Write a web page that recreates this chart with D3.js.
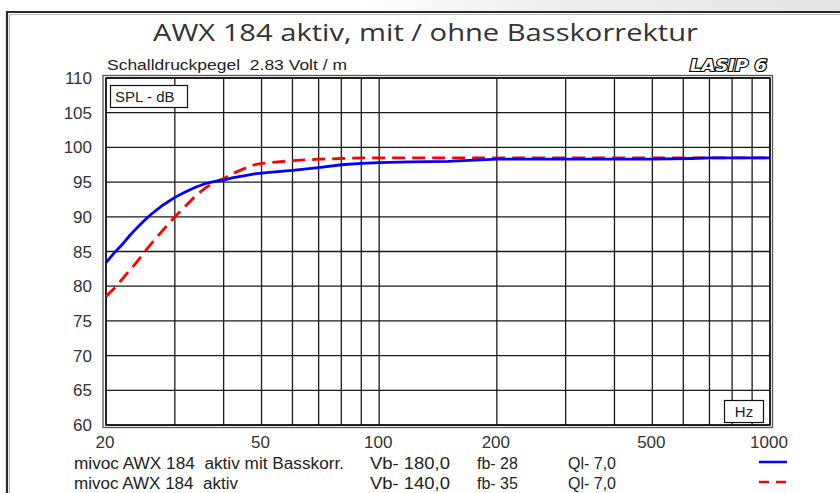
<!DOCTYPE html>
<html>
<head>
<meta charset="utf-8">
<script src="https://cdn.jsdelivr.net/npm/d3@7"></script>
<style>
  html, body { margin: 0; padding: 0; background: #fff; }
  svg { display: block; }
  text { font-family: "Liberation Sans", Arial, sans-serif; fill: #222; white-space: pre; }
</style>
</head>
<body>
<svg id="chart" width="840" height="493"></svg>
<script>
// ---- data ----
const freqs = [20, 21, 22, 23, 24, 25, 26, 28, 30, 32, 34, 36, 38, 40, 42, 45, 48, 50, 55, 60, 70, 80, 90, 100, 120, 150, 200, 300, 400, 500, 630, 700, 800, 1000];
const splMitBasskorr = [83.4, 84.8, 86.0, 87.3, 88.4, 89.4, 90.3, 91.7, 92.8, 93.6, 94.3, 94.8, 95.1, 95.3, 95.6, 95.9, 96.2, 96.3, 96.5, 96.7, 97.1, 97.5, 97.7, 97.8, 97.9, 98.0, 98.3, 98.3, 98.3, 98.3, 98.4, 98.5, 98.5, 98.5];
const splAktiv = [78.5, 79.7, 81.0, 82.3, 83.5, 84.8, 86.0, 88.1, 90.0, 91.6, 93.1, 94.2, 95.0, 95.5, 96.2, 96.9, 97.5, 97.7, 97.9, 98.1, 98.3, 98.4, 98.5, 98.5, 98.5, 98.5, 98.5, 98.5, 98.5, 98.5, 98.5, 98.5, 98.5, 98.5];
const xGridFreqs = [20, 30, 40, 50, 60, 70, 80, 90, 100, 200, 300, 400, 500, 600, 700, 800, 900, 1000];
const xTickLabels = [20, 50, 100, 200, 500, 1000];
const yTicks = [60, 65, 70, 75, 80, 85, 90, 95, 100, 105, 110];
const titleText = "AWX 184 aktiv, mit / ohne Basskorrektur";
const subtitleText = "Schalldruckpegel  2.83 Volt / m";
const legendNames = ["mivoc AWX 184  aktiv mit Basskorr.", "mivoc AWX 184  aktiv"];
const legendVb = ["Vb- 180,0", "Vb- 140,0"];
const legendFb = ["fb- 28", "fb- 35"];
const legendQl = ["Ql- 7,0", "Ql- 7,0"];

// ---- layout ----
const svg = d3.select("#chart");
const x = d3.scaleLog().domain([20, 1000]).range([106, 770]);
const y = d3.scaleLinear().domain([60, 110]).range([425, 78]);

// top background texture
const defs = svg.append("defs");
const grad = defs.append("linearGradient").attr("id", "topg").attr("x1", 0).attr("x2", 1);
grad.append("stop").attr("offset", 0).attr("stop-color", "#ffffff");
grad.append("stop").attr("offset", 0.4).attr("stop-color", "#eeeeee");
grad.append("stop").attr("offset", 1).attr("stop-color", "#e6e6e6");
svg.append("rect").attr("x", 360).attr("y", 0).attr("width", 480).attr("height", 11).attr("fill", "url(#topg)");

// outer frame
svg.append("path").attr("d", "M7,493 V12 H840").attr("fill", "none").attr("stroke", "#2a2a2a").attr("stroke-width", 2.2);
svg.append("path").attr("d", "M9.5,493 V14.5 H840").attr("fill", "none").attr("stroke", "#bbb").attr("stroke-width", 1);

// title
svg.append("text").attr("x", 153).attr("y", 41).attr("textLength", 545).attr("lengthAdjust", "spacingAndGlyphs")
  .style("font-family", "'Open Sans', 'DejaVu Sans', sans-serif").style("font-size", "23px").style("fill", "#333")
  .text(titleText);

// subtitle
svg.append("text").attr("x", 107).attr("y", 70).attr("textLength", 240).attr("lengthAdjust", "spacingAndGlyphs")
  .style("font-size", "14px").text(subtitleText);

// LASIP 6 logo
svg.append("text").attr("x", 690).attr("y", 71).attr("textLength", 77).attr("lengthAdjust", "spacingAndGlyphs")
  .style("font-family", "'DejaVu Sans', sans-serif").style("font-size", "16px").style("font-weight", "bold").style("font-style", "italic")
  .style("fill", "#fff").style("stroke", "#000").style("stroke-width", 2.2).style("paint-order", "stroke")
  .text("LASIP 6");

// plot background
const plot = svg.append("g");
plot.append("rect").attr("x", 106).attr("y", 78).attr("width", 664).attr("height", 347).attr("fill", "#fff");

// grid
plot.selectAll(".vg").data(xGridFreqs).join("line")
  .attr("x1", d => x(d)).attr("x2", d => x(d)).attr("y1", y(110)).attr("y2", y(60))
  .attr("stroke", "#1a1a1a").attr("stroke-width", 1.3);
plot.selectAll(".hg").data(yTicks).join("line")
  .attr("x1", x(20)).attr("x2", x(1000)).attr("y1", d => y(d)).attr("y2", d => y(d))
  .attr("stroke", "#1a1a1a").attr("stroke-width", 1.3);

// double border
plot.append("rect").attr("x", 103).attr("y", 75.5).attr("width", 669.5).attr("height", 352)
  .attr("fill", "none").attr("stroke", "#555").attr("stroke-width", 1.3);
plot.append("rect").attr("x", 106).attr("y", 78).attr("width", 664).attr("height", 347)
  .attr("fill", "none").attr("stroke", "#111").attr("stroke-width", 1.5);

// curves
const line = d3.line().x(d => x(d[0])).y(d => y(d[1]));
plot.append("path").datum(freqs.map((f, i) => [f, splAktiv[i]]))
  .attr("d", line).attr("fill", "none").attr("stroke", "#ff0000").attr("stroke-width", 2.8)
  .attr("stroke-dasharray", "13,7");
plot.append("path").datum(freqs.map((f, i) => [f, splMitBasskorr[i]]))
  .attr("d", line).attr("fill", "none").attr("stroke", "#0000ff").attr("stroke-width", 2.8);

// SPL - dB box
plot.append("rect").attr("x", 110.5).attr("y", 85.5).attr("width", 77).attr("height", 22)
  .attr("fill", "#fff").attr("stroke", "#111").attr("stroke-width", 1.2);
plot.append("text").attr("x", 115).attr("y", 102).style("font-size", "15px").text("SPL - dB");

// Hz box
plot.append("rect").attr("x", 724.5).attr("y", 400.5).attr("width", 39).attr("height", 22)
  .attr("fill", "#fff").attr("stroke", "#111").attr("stroke-width", 1.2);
plot.append("text").attr("x", 744).attr("y", 417).attr("text-anchor", "middle").style("font-size", "15px").text("Hz");

// y tick labels
svg.selectAll(".yl").data(yTicks).join("text")
  .attr("x", 92).attr("y", d => y(d) + 6).attr("text-anchor", "end")
  .style("font-size", "17px").style("fill", "#333").text(d => d);

// x tick labels
svg.selectAll(".xl").data(xTickLabels).join("text")
  .attr("x", d => x(d) - 1).attr("y", 448).attr("text-anchor", "middle")
  .style("font-size", "17px").style("fill", "#333").text(d => d);

// legend
const rowsY = [469, 489];
const colors = ["#0000ff", "#ff0000"];
const nameLens = [270, 164];
legendNames.forEach((name, i) => {
  const yy = rowsY[i];
  svg.append("text").attr("x", 74).attr("y", yy).attr("textLength", nameLens[i]).attr("lengthAdjust", "spacingAndGlyphs")
    .style("font-size", "16px").text(name);
  svg.append("text").attr("x", 370).attr("y", yy).attr("textLength", 80).attr("lengthAdjust", "spacingAndGlyphs")
    .style("font-size", "16px").text(legendVb[i]);
  svg.append("text").attr("x", 477).attr("y", yy).style("font-size", "16px").text(legendFb[i]);
  svg.append("text").attr("x", 568).attr("y", yy).style("font-size", "16px").text(legendQl[i]);
  const ln = svg.append("line").attr("x1", 759).attr("x2", 787).attr("y1", yy - 7).attr("y2", yy - 7)
    .attr("stroke", colors[i]).attr("stroke-width", 2.5);
  if (i === 1) ln.attr("stroke-dasharray", "10,7");
});
</script>
</body>
</html>
